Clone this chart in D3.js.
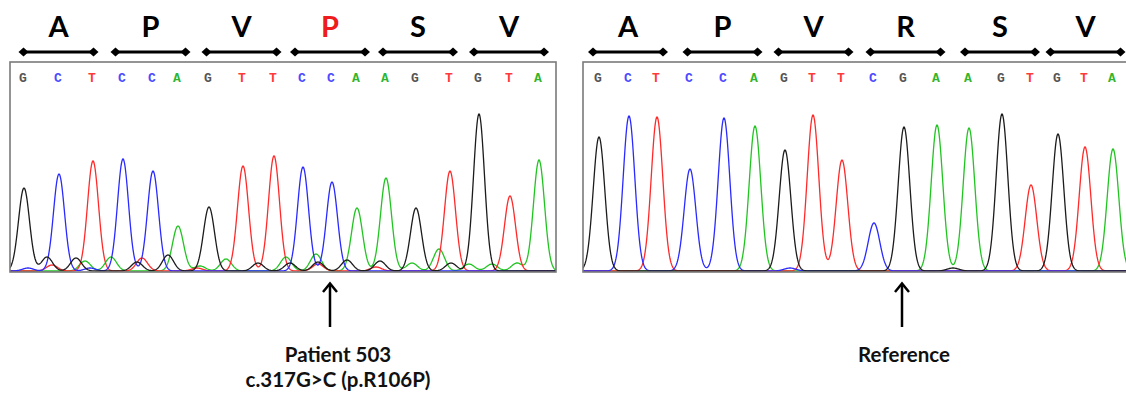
<!DOCTYPE html>
<html>
<head>
<meta charset="utf-8">
<script src="https://cdn.jsdelivr.net/npm/d3@7"></script>
<style>
  body { margin: 0; background: #fff; }
  svg { display: block; }
</style>
</head>
<body>
<div class="canvas"></div>
<script>
// called bases, peak positions (scan units) and peak heights (signal units)
const patientBases = "GCTCCAGTTCCAAGTGTA".split("");
const patientScans = [14, 49, 83, 113, 143, 168, 199, 233, 264, 293, 322, 347, 376, 406, 440, 469, 500, 529];
const patientHeights = [83, 97, 110, 112, 100, 45, 64, 105, 115, 104, 89, 63, 93, 63, 100, 157, 75, 111];
// small background peaks: [base, scan, height]
const patientNoise = [
  ["C", 18, 3], ["G", 37, 14], ["T", 42, 6], ["G", 66, 13], ["A", 75, 10], ["C", 80, 3],
  ["A", 101, 14], ["G", 127, 9], ["T", 132, 13], ["G", 158, 16], ["T", 187, 3], ["A", 190, 5],
  ["A", 216, 12], ["G", 248, 8], ["A", 276, 14], ["G", 280, 8], ["A", 306, 17], ["G", 308, 9],
  ["T", 308, 7], ["G", 337, 11], ["T", 366, 4], ["G", 370, 10], ["A", 402, 8], ["A", 429, 22],
  ["G", 441, 8], ["A", 459, 7], ["A", 482, 7], ["A", 507, 8]
];

const refBases = "GCTCCAGTTCGAAGTGTA".split("");
const refScans = [16, 46, 74, 107, 141, 172, 202, 230, 259, 291, 321, 354, 386, 419, 448, 475, 502, 530];
const refHeights = [134, 155, 154, 102, 153, 145, 121, 156, 111, 48, 144, 146, 143, 157, 86, 137, 124, 122];
const refNoise = [["C", 207, 3], ["G", 370, 3]];

const patientAA = ["A", "P", "V", "P", "S", "V"];
const refAA = ["A", "P", "V", "R", "S", "V"];
const mutCodon = 3;     // codon index of the change
const mutBase = 10;     // base index of the change

const traceColor = {G: "#1c1c1c", A: "#22c422", T: "#ff2a2a", C: "#2a2aff"};
const letterColor = {G: "#555", A: "#2fb52f", T: "#ff3a3a", C: "#4a4aff"};

const W = 1126, H = 394;
const svg = d3.select(".canvas").append("svg")
    .attr("width", W)
    .attr("height", H);
svg.append("rect").attr("width", W).attr("height", H).attr("fill", "#fff");

const plotTop = 62, plotBottom = 272;
const y = d3.scaleLinear().domain([0, 209]).range([271, plotTop]);

function drawPanel(p) {
  const x = d3.scaleLinear().domain([0, p.scanMax]).range([p.left, p.right]);
  const g = svg.append("g");

  g.append("clipPath").attr("id", "clip-" + p.id)
    .append("rect")
      .attr("x", p.left).attr("y", plotTop)
      .attr("width", p.right - p.left).attr("height", plotBottom - plotTop);

  // all peaks for the panel
  const peaks = p.bases.map((b, i) => ({base: b, scan: p.scans[i], h: p.heights[i]}))
    .concat(p.noise.map(d => ({base: d[0], scan: d[1], h: d[2]})));

  const samples = d3.range(0, p.scanMax + 0.5, 0.5);
  const line = d3.line().x(d => x(d.s)).y(d => y(d.v));

  const traces = g.append("g").attr("clip-path", `url(#clip-${p.id})`);
  ["A", "T", "C", "G"].forEach(ch => {
    const mine = peaks.filter(d => d.base === ch);
    const pts = samples.map(s => ({
      s: s,
      v: d3.sum(mine, d => d.h * Math.exp(-((s - d.scan) ** 2) / (2 * p.sigma * p.sigma)))
    }));
    traces.append("path")
        .datum(pts)
        .attr("d", line)
        .attr("fill", "none")
        .attr("stroke", traceColor[ch])
        .attr("stroke-width", 1.3);
  });

  // frame
  g.append("rect")
      .attr("x", p.left).attr("y", plotTop)
      .attr("width", p.right - p.left).attr("height", plotBottom - plotTop)
      .attr("fill", "none")
      .attr("stroke", "#7a7a7a")
      .attr("stroke-width", 1.6);

  // base calls
  g.selectAll(".call")
    .data(p.bases)
    .join("text")
      .attr("class", "call")
      .attr("x", (d, i) => x(p.scans[i]) - 1)
      .attr("y", 82)
      .attr("text-anchor", "middle")
      .style("font-family", "'Liberation Mono', 'DejaVu Sans Mono', monospace")
      .style("font-weight", 700)
      .style("font-size", "13px")
      .style("fill", d => letterColor[d])
      .text(d => d);

  // codon brackets and amino acids
  const codons = p.aa.map((a, i) => ({
    aa: a, i: i,
    cx: (x(p.scans[3 * i]) + x(p.scans[3 * i + 2])) / 2
  }));
  const br = g.append("g");
  br.selectAll("line")
    .data(codons)
    .join("line")
      .attr("x1", d => d.cx - 35).attr("x2", d => d.cx + 35)
      .attr("y1", 52).attr("y2", 52)
      .attr("stroke", "#000").attr("stroke-width", 3);
  const ends = codons.flatMap(d => [d.cx - 35, d.cx + 35]);
  br.selectAll("path")
    .data(ends)
    .join("path")
      .attr("d", d => `M${d - 5},52 L${d},47.5 L${d + 5},52 L${d},56.5 Z`)
      .attr("fill", "#000");
  g.selectAll(".aa")
    .data(codons)
    .join("text")
      .attr("class", "aa")
      .attr("x", d => d.cx)
      .attr("y", 37)
      .attr("text-anchor", "middle")
      .style("font-family", "Lato, 'Open Sans', sans-serif")
      .style("font-weight", 700)
      .style("font-size", "29px")
      .style("fill", d => (p.mark && d.i === mutCodon) ? "#ee1c1c" : "#000")
      .text(d => d.aa);

  // arrow to the changed base
  const ax = x(p.scans[mutBase]) - 2;
  g.append("line")
      .attr("x1", ax).attr("x2", ax)
      .attr("y1", 285).attr("y2", 327)
      .attr("stroke", "#000").attr("stroke-width", 2.5);
  g.append("path")
      .attr("d", `M${ax - 7},292 L${ax},283.5 L${ax + 7},292`)
      .attr("fill", "none")
      .attr("stroke", "#000").attr("stroke-width", 2.5);

  p.label.forEach((t, i) => {
    g.append("text")
        .attr("x", ax + p.labelShift)
        .attr("y", 362 + i * 25)
        .attr("text-anchor", "middle")
        .style("font-family", "Lato, 'Open Sans', sans-serif")
        .style("font-weight", 700)
        .style("font-size", "20.5px")
        .style("fill", "#111")
        .text(t);
  });
}

drawPanel({
  id: "patient", left: 10, right: 556, scanMax: 546, sigma: 5.5,
  bases: patientBases, scans: patientScans, heights: patientHeights, noise: patientNoise,
  aa: patientAA, mark: true, label: ["Patient 503", "c.317G>C (p.R106P)"], labelShift: 8
});
drawPanel({
  id: "ref", left: 583, right: 1145, scanMax: 562, sigma: 5.8,
  bases: refBases, scans: refScans, heights: refHeights, noise: refNoise,
  aa: refAA, mark: false, label: ["Reference"], labelShift: 2
});
</script>
</body>
</html>
